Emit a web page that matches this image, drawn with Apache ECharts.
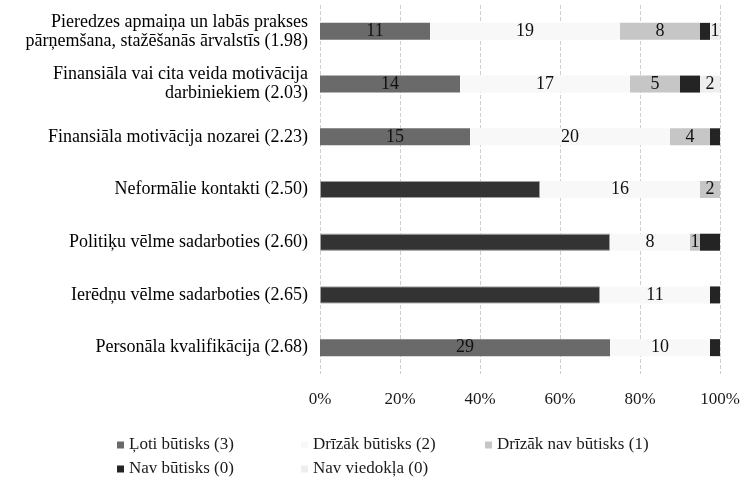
<!DOCTYPE html>
<html>
<head>
<meta charset="utf-8">
<script src="https://cdn.jsdelivr.net/npm/echarts@6/dist/echarts.min.js"></script>
<style>
html,body{margin:0;padding:0;background:#fff;}
#chart{width:745px;height:488px;}
</style>
</head>
<body>
<div id="chart"></div>
<script>
const categories = [
  'Pieredzes apmaiņa un labās prakses\npārņemšana, stažēšanās ārvalstīs (1.98)',
  'Finansiāla vai cita veida motivācija\ndarbiniekiem (2.03)',
  'Finansiāla motivācija nozarei (2.23)',
  'Neformālie kontakti (2.50)',
  'Politiķu vēlme sadarboties (2.60)',
  'Ierēdņu vēlme sadarboties (2.65)',
  'Personāla kvalifikācija (2.68)'
];
const seriesNames = ['Ļoti būtisks (3)', 'Drīzāk būtisks (2)', 'Drīzāk nav būtisks (1)', 'Nav būtisks (0)', 'Nav viedokļa (0)'];
const lotiButisks   = [11, 14, 15, 22, 29, 28, 29];
const drizakButisks = [19, 17, 20, 16, 8, 11, 10];
const drizakNav     = [8, 5, 4, 2, 1, 0, 0];
const navButisks    = [1, 2, 1, 0, 2, 1, 1];
const navViedokla   = [1, 2, 0, 0, 0, 0, 0];
const tickLabels = ['0%', '20%', '40%', '60%', '80%', '100%'];

const values = [lotiButisks, drizakButisks, drizakNav, navButisks, navViedokla];
const totals = categories.map((_, i) => values.reduce((s, arr) => s + arr[i], 0));

// style only
const solidRows = [3, 4, 5];
const colors = ['#6a6a6a', '#f8f8f8', '#c6c6c6', '#242424', '#eeeeee'];
const showLabels = [true, true, true, false, true];
const FONT = '"Liberation Serif", "DejaVu Serif", serif';

const series = values.map((arr, si) => ({
  name: seriesNames[si],
  type: 'bar',
  stack: 'total',
  barWidth: 17,
  itemStyle: { color: colors[si] },
  label: {
    show: showLabels[si],
    position: 'inside',
    color: '#111',
    fontFamily: FONT,
    fontSize: 18,
    formatter: p => {
      const v = arr[p.dataIndex];
      if (!v) return '';
      if (si === 0 && solidRows.includes(p.dataIndex)) return '';
      return String(v);
    }
  },
  data: arr.map((v, i) => {
    const d = { value: v / totals[i] * 100 };
    if (si === 0 && solidRows.includes(i)) {
      d.itemStyle = { color: '#333333', borderColor: '#a0a0a0', borderWidth: 1 };
    }
    return d;
  })
}));

const chart = echarts.init(document.getElementById('chart'), null, { renderer: 'canvas' });
const legendBase = {
  orient: 'vertical',
  top: 431,
  icon: 'rect',
  itemWidth: 7,
  itemHeight: 7,
  itemGap: 6,
  selectedMode: false,
  textStyle: { fontFamily: FONT, fontSize: 17, color: '#1a1a1a', lineHeight: 18 }
};
chart.setOption({
  animation: false,
  backgroundColor: '#fff',
  grid: { left: 320, right: 25, top: 5, bottom: 114 },
  xAxis: {
    type: 'value',
    min: 0, max: 100, interval: 20,
    axisLine: { show: false },
    axisTick: { show: false },
    splitLine: { show: true, lineStyle: { color: '#cfcfcf', type: 'dashed', width: 1 } },
    axisLabel: {
      margin: 17,
      fontFamily: FONT, fontSize: 17, color: '#1a1a1a',
      formatter: v => tickLabels[Math.round(v / 20)]
    }
  },
  yAxis: {
    type: 'category',
    inverse: true,
    data: categories,
    axisLine: { show: false },
    axisTick: { show: false },
    axisLabel: {
      margin: 12,
      fontFamily: FONT, fontSize: 18, color: '#000', lineHeight: 19
    }
  },
  legend: [
    Object.assign({}, legendBase, { left: 112, data: [seriesNames[0], seriesNames[3]] }),
    Object.assign({}, legendBase, { left: 296, data: [seriesNames[1], seriesNames[4]] }),
    Object.assign({}, legendBase, { left: 480, data: [seriesNames[2]] })
  ],
  series: series
});
</script>
</body>
</html>
